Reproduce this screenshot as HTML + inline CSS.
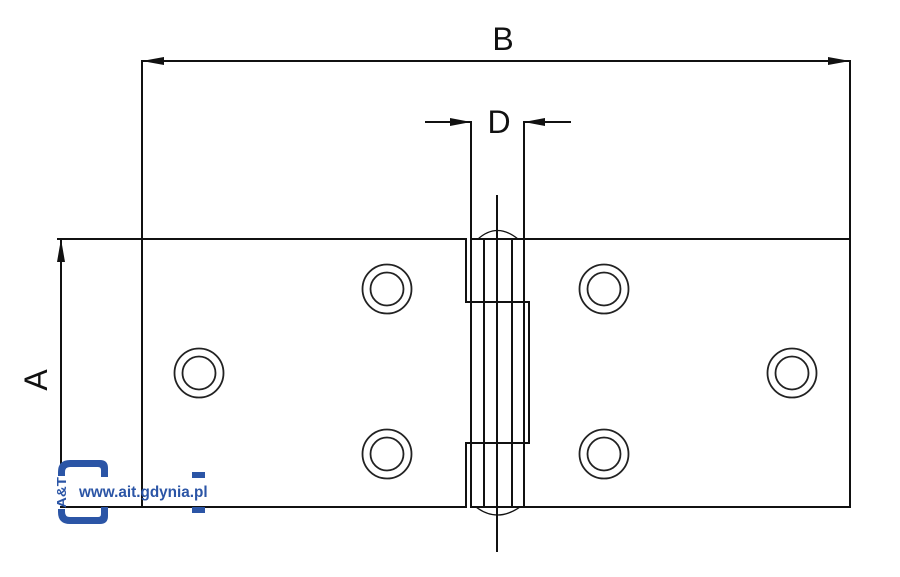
<!DOCTYPE html>
<html>
<head>
<meta charset="utf-8">
<style>
  html,body{margin:0;padding:0;background:#fff;}
  svg{display:block;}
</style>
</head>
<body>
<svg width="900" height="577" viewBox="0 0 900 577" xmlns="http://www.w3.org/2000/svg">
  <rect width="900" height="577" fill="#fff"/>
  <g stroke="#111" stroke-width="2" fill="none" stroke-linecap="square">
    <!-- B dimension -->
    <line x1="142" y1="61" x2="850" y2="61"/>
    <line x1="142" y1="61" x2="142" y2="507"/>
    <line x1="850" y1="61" x2="850" y2="507"/>
    <!-- D dimension -->
    <line x1="426" y1="122" x2="471" y2="122"/>
    <line x1="524" y1="122" x2="570" y2="122"/>
    <line x1="471" y1="122" x2="471" y2="507"/>
    <line x1="524" y1="122" x2="524" y2="507"/>
    <!-- A dimension -->
    <line x1="61" y1="239" x2="61" y2="507"/>
    <!-- left plate -->
    <polyline points="58,239 466,239 466,302 529,302 529,443 466,443 466,507 60,507"/>
    <!-- right plate / knuckle -->
    <line x1="471" y1="239" x2="850" y2="239"/>
    <line x1="471" y1="507" x2="850" y2="507"/>
    <!-- knuckle inner lines -->
    <line x1="484" y1="239" x2="484" y2="507"/>
    <line x1="512" y1="239" x2="512" y2="507"/>
    <!-- center line -->
    <line x1="497" y1="196" x2="497" y2="551"/>
  </g>
  <!-- arcs -->
  <path d="M478 239 Q497 222 518 239" stroke="#111" stroke-width="1.3" fill="none"/>
  <path d="M476 507 Q497 523 520 507" stroke="#111" stroke-width="1.3" fill="none"/>
  <!-- arrowheads -->
  <g fill="#111">
    <polygon points="142,61 164,57 164,65"/>
    <polygon points="850,61 828,57 828,65"/>
    <polygon points="471,122 450,118 450,126"/>
    <polygon points="524,122 545,118 545,126"/>
    <polygon points="61,239 57,262 65,262"/>
  </g>
  <!-- holes -->
  <g stroke="#222" stroke-width="1.8" fill="none">
    <circle cx="199" cy="373" r="24.5"/><circle cx="199" cy="373" r="16.5"/>
    <circle cx="387" cy="289" r="24.5"/><circle cx="387" cy="289" r="16.5"/>
    <circle cx="387" cy="454" r="24.5"/><circle cx="387" cy="454" r="16.5"/>
    <circle cx="604" cy="289" r="24.5"/><circle cx="604" cy="289" r="16.5"/>
    <circle cx="604" cy="454" r="24.5"/><circle cx="604" cy="454" r="16.5"/>
    <circle cx="792" cy="373" r="24.5"/><circle cx="792" cy="373" r="16.5"/>
  </g>
  <!-- labels -->
  <g font-family="'Liberation Sans', sans-serif" font-size="32" fill="#111">
    <text x="503" y="50" text-anchor="middle">B</text>
    <text x="499" y="133" text-anchor="middle">D</text>
    <text x="0" y="0" text-anchor="middle" transform="translate(47,380) rotate(-90)">A</text>
  </g>
  <!-- logo -->
  <line x1="61" y1="490" x2="61" y2="507" stroke="#111" stroke-width="2"/>
  <g fill="#2b55a6">
    <path d="M58 472 Q58 460 70 460 L100 460 Q108 460 108 468 L108 477 L101 477 L101 470 Q101 467 98 467 L70 467 Q65 467 65 472 L65 512 Q65 517 70 517 L98 517 Q101 517 101 514 L101 507 L108 507 L108 516 Q108 524 100 524 L70 524 Q58 524 58 512 Z"/>
    <rect x="192" y="472" width="13" height="6"/>
    <rect x="192" y="507" width="13" height="6"/>
  </g>
  <rect x="55" y="476" width="11" height="33" fill="#fff"/>
  <line x1="60" y1="507" x2="66" y2="507" stroke="#111" stroke-width="2"/>
  <text x="0" y="0" transform="translate(66,492.5) rotate(-90)" text-anchor="middle" font-family="'Liberation Sans', sans-serif" font-weight="bold" font-size="12.5" textLength="31" lengthAdjust="spacingAndGlyphs" fill="#2b55a6">A&amp;T</text>
  <text x="79" y="497" font-family="'Liberation Sans', sans-serif" font-weight="bold" font-size="15.3" fill="#2b55a6">www.ait.gdynia.pl</text>
</svg>
</body>
</html>
